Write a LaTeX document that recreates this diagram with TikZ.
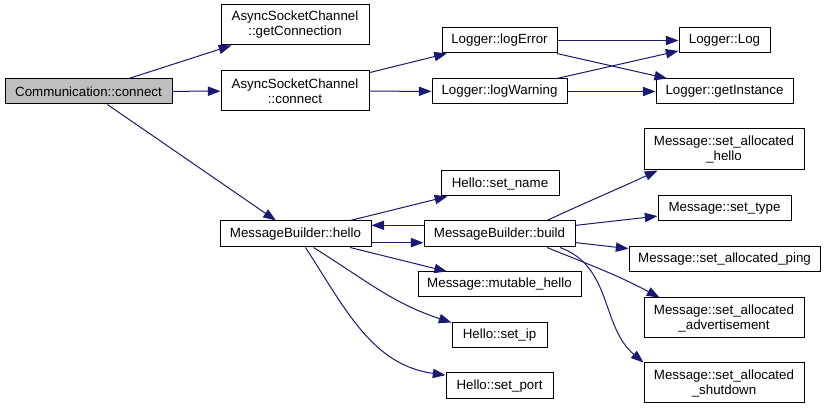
\documentclass[tikz,border=0pt]{standalone}
\usepackage{fontspec}
\setmainfont{Liberation Sans}
\usetikzlibrary{arrows.meta}
\definecolor{edgec}{HTML}{191970}
\definecolor{grayfill}{HTML}{BFBFBF}
\tikzset{
  box/.style={draw=black, line width=0.75pt, fill=white, inner sep=0pt, align=center,
              font=\fontsize{10}{11.25}\selectfont, text=black},
  edge/.style={draw=edgec, line width=0.75pt, -{Triangle[length=9.5pt,width=7pt]}},
}
\begin{document}
\begin{tikzpicture}[x=0.75pt,y=-0.75pt]
\useasboundingbox[fill=white] (0,0) rectangle (825,409);
% nodes
\node[box, fill=grayfill, minimum width=125.25pt, minimum height=18.75pt] (comm) at (88.5,91.5) {Communication::connect};
\node[box, minimum width=111pt, minimum height=30pt] (getc) at (295,25) {AsyncSocketChannel\\::getConnection};
\node[box, minimum width=111pt, minimum height=30pt] (ascc) at (295,91) {AsyncSocketChannel\\::connect};
\node[box, minimum width=86.25pt, minimum height=18.75pt] (logerr) at (499.5,40.5) {Logger::logError};
\node[box, minimum width=101.25pt, minimum height=18.75pt] (logwarn) at (499.5,91.5) {Logger::logWarning};
\node[box, minimum width=68.25pt, minimum height=18.75pt] (log) at (724.5,40.5) {Logger::Log};
\node[box, minimum width=102.75pt, minimum height=18.75pt] (getinst) at (724.5,91.5) {Logger::getInstance};
\node[box, minimum width=88.5pt, minimum height=18.75pt] (setname) at (500,183.5) {Hello::set\_name};
\node[box, minimum width=113.25pt, minimum height=19.5pt] (hello) at (295.5,234) {MessageBuilder::hello};
\node[box, minimum width=113.25pt, minimum height=19.5pt] (build) at (499.5,234) {MessageBuilder::build};
\node[box, minimum width=122.25pt, minimum height=18.75pt] (mut) at (499.5,284.5) {Message::mutable\_hello};
\node[box, minimum width=71.25pt, minimum height=18.75pt] (setip) at (499.5,335.5) {Hello::set\_ip};
\node[box, minimum width=80.25pt, minimum height=19.5pt] (setport) at (499.5,386) {Hello::set\_port};
\node[box, minimum width=120pt, minimum height=30.75pt] (sah) at (724,149.5) {Message::set\_allocated\\\_hello};
\node[box, minimum width=99.75pt, minimum height=18.75pt] (stype) at (724.5,208.5) {Message::set\_type};
\node[box, minimum width=143.25pt, minimum height=18.75pt] (sap) at (724.5,259.5) {Message::set\_allocated\_ping};
\node[box, minimum width=120pt, minimum height=30pt] (sadv) at (724,318) {Message::set\_allocated\\\_advertisement};
\node[box, minimum width=120pt, minimum height=30pt] (sshut) at (724,383) {Message::set\_allocated\\\_shutdown};
% edges
\draw[edge] (comm) -- (getc);
\draw[edge] (comm) -- (ascc);
\draw[edge] (comm) -- (hello);
\draw[edge] (ascc) -- (logerr);
\draw[edge] (ascc) -- (logwarn);
\draw[edge] (logerr) -- (log);
\draw[edge] (logerr) -- (getinst);
\draw[edge] (logwarn) -- (log);
\draw[edge] (logwarn) -- (getinst);
\draw[edge] (hello) -- (setname);
\draw[edge] ([yshift=6.5pt]build.west) -- ([yshift=6.5pt]hello.east);
\draw[edge] ([yshift=-6.5pt]hello.east) -- ([yshift=-6.5pt]build.west);
\draw[edge] (hello) -- (mut);
\draw[edge] ([xshift=13.5pt]hello.south) to[out=-32,in=162] (setip.north west);
\draw[edge] ([xshift=7.5pt]hello.south) to[out=-57,in=172] ([yshift=-2pt]setport.north west);
\draw[edge] ([xshift=35.6pt]build.north) to[out=25,in=205] ([xshift=10.5pt]sah.south west);
\draw[edge] (build) -- (stype);
\draw[edge] (build) -- (sap);
\draw[edge] ([xshift=35.6pt]build.south) to[out=-22,in=152] ([xshift=12pt]sadv.north west);
\draw[edge] ([xshift=45.4pt]build.south) to[out=-20,in=140] (sshut.north west);
\end{tikzpicture}
\end{document}
